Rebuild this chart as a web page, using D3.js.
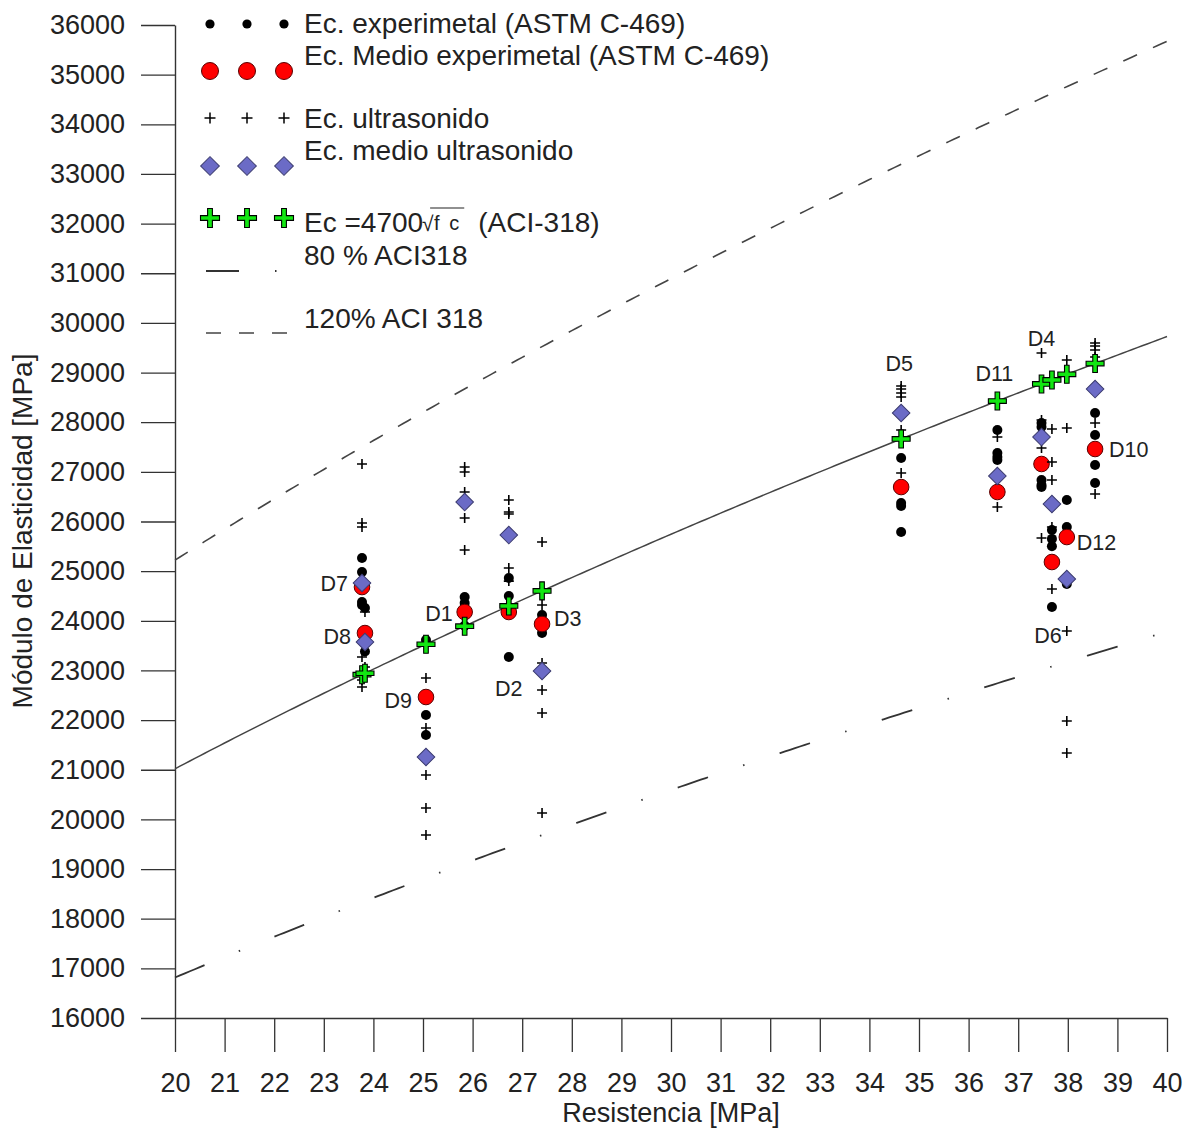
<!DOCTYPE html>
<html>
<head>
<meta charset="utf-8">
<script src="https://cdn.jsdelivr.net/npm/d3@7"></script>
<style>
  html, body { margin: 0; padding: 0; background: #fff; }
  svg { display: block; font-family: "Liberation Sans", Arial, sans-serif; }
</style>
</head>
<body>
<svg id="chart" width="1192" height="1131"></svg>
<script>
// Axis ticks
const xTickValues = [20, 21, 22, 23, 24, 25, 26, 27, 28, 29, 30, 31, 32, 33, 34, 35, 36, 37, 38, 39, 40];
const yTickValues = [16000, 17000, 18000, 19000, 20000, 21000, 22000, 23000, 24000, 25000, 26000,
                     27000, 28000, 29000, 30000, 31000, 32000, 33000, 34000, 35000, 36000];

// Mixes D1..D12: compressive strength f'c [MPa]
const groupIds = ["D1", "D2", "D3", "D4", "D5", "D6", "D7", "D8", "D9", "D10", "D11", "D12"];
const groupFc  = [25.84, 26.73, 27.40, 37.47, 34.64, 37.68, 23.77, 23.83, 25.06, 38.55, 36.58, 37.98];

// Mean modulus, experimental (ASTM C-469) and ultrasonic [MPa]
const expMean = [24177, 24177, 23935, 27158, 26694, 25184, 24680, 23753, 22465, 27460, 26594, 25687];
const usMean  = [26392, 25727, 22989, 27701, 28185, 26352, 24761, 23573, 21257, 28668, 26916, 24842];

// Individual specimens, experimental (ASTM C-469) [MPa]
const expValues = [
  [24479, 24360, 23900],
  [24862, 24499, 23270],
  [24117, 23754],
  [27983, 27903, 26835, 26735, 26694],
  [27278, 26700, 26372, 26312, 25788],
  [25830, 25650, 25500, 24278],
  [25264, 24982, 24378, 24318],
  [24257, 23620, 23380],
  [23613, 22102, 21700],
  [28185, 27742, 27137, 26775],
  [27842, 27379, 27298, 27238],
  [26432, 25889, 24740]
];

// Individual readings, ultrasonic pulse velocity [MPa]
const usValues = [
  [27097, 26997, 26594, 26070, 25425],
  [26432, 26191, 26151, 25063, 24800],
  [25587, 24318, 23150, 22606, 22143, 20129],
  [29393, 28044, 27480, 25667],
  [28728, 28668, 28588, 28507, 27842, 26976],
  [27862, 27198, 26835, 25889, 24640],
  [27158, 25970, 25889, 23270, 22807, 22666],
  [24177, 23069, 22948],
  [22848, 21841, 20894, 20229, 19686],
  [29595, 29534, 29454, 29312, 27983, 26553],
  [27701, 26291],
  [29252, 27882, 23794, 21982, 21337]
];

// ACI-318 relation and its bounds
const aciCoef = 4700;
const boundFactors = [0.8, 1.2];

// Label placement around each mean marker: [dx, dy, anchor]
const labelPlacement = [
  [-12, 1, "end"], [0, 76, "middle"], [12, -6, "start"], [0, -126, "middle"],
  [-2, -124, "middle"], [-4, 73, "middle"], [-14, -4, "end"], [-14, 3, "end"],
  [-14, 3, "end"], [14, 0, "start"], [-3, -119, "middle"], [10, 5, "start"]
];

const svg = d3.select("#chart");
const x = d3.scaleLinear().domain([20, 40]).range([175, 1167]);
const y = d3.scaleLinear().domain([16000, 36000]).range([1018, 25]);

const TEXT = "#222";
const aci = fc => aciCoef * Math.sqrt(fc);

// ---- Axes ----
const xAxis = d3.axisBottom(x).tickValues(xTickValues).tickSize(34).tickSizeOuter(0).tickPadding(21)
  .tickFormat(d3.format("d"));
const yAxis = d3.axisLeft(y).tickValues(yTickValues).tickSize(34).tickSizeOuter(0).tickPadding(16)
  .tickFormat(d3.format("d"));

const gx = svg.append("g").attr("transform", `translate(0,${y(16000)})`).call(xAxis);
const gy = svg.append("g").attr("transform", `translate(${x(20)},0)`).call(yAxis);
[gx, gy].forEach(g => {
  g.selectAll("path.domain").attr("stroke", "#333").attr("stroke-width", 1.4);
  g.selectAll(".tick line").attr("stroke", "#333").attr("stroke-width", 1.3);
  g.selectAll(".tick text").attr("fill", TEXT).style("font-size", "27px")
    .style("font-family", "'Liberation Sans', Arial, sans-serif");
});

svg.append("text").attr("x", 671).attr("y", 1122).attr("text-anchor", "middle")
  .attr("fill", TEXT).style("font-size", "27px").text("Resistencia [MPa]");
svg.append("text").attr("transform", "translate(32,531) rotate(-90)").attr("text-anchor", "middle")
  .attr("fill", TEXT).style("font-size", "28px").text("Módulo de Elasticidad [MPa]");

// ---- Reference curves ----
const fcSamples = d3.range(20, 40.001, 0.1);
const curve = k => d3.line().x(d => x(d)).y(d => y(k * aci(d)))(fcSamples);

const plot = svg.append("g");
plot.append("path").attr("d", curve(1)).attr("fill", "none")
  .attr("stroke", "#444").attr("stroke-width", 1.5);
plot.append("path").attr("d", curve(boundFactors[1])).attr("fill", "none")
  .attr("stroke", "#444").attr("stroke-width", 1.6).attr("stroke-dasharray", "15,17.5");
plot.append("path").attr("d", curve(boundFactors[0])).attr("fill", "none")
  .attr("stroke", "#333").attr("stroke-width", 1.8).attr("stroke-dasharray", "32,37,1.5,37");

// ---- Markers ----
const plusPath = h => `M${-h},0H${h}M0,${-h}V${h}`;
// outlined plus: half-length L, half arm width w
const crossPath = (L, w) =>
  `M${-w},${-L}H${w}V${-w}H${L}V${w}H${w}V${L}H${-w}V${w}H${-L}V${-w}H${-w}Z`;
const diamondSym = s => d3.symbol(d3.symbolSquare, s)();

const expPts = [], usPts = [];
groupIds.forEach((id, i) => {
  expValues[i].forEach(v => expPts.push([groupFc[i], v]));
  usValues[i].forEach(v => usPts.push([groupFc[i], v]));
});

// individual experimental
plot.append("g").selectAll("circle").data(expPts).join("circle")
  .attr("cx", d => x(d[0])).attr("cy", d => y(d[1])).attr("r", 5).attr("fill", "#000");

// experimental means
plot.append("g").selectAll("circle").data(groupIds).join("circle")
  .attr("cx", (d, i) => x(groupFc[i])).attr("cy", (d, i) => y(expMean[i])).attr("r", 7.8)
  .attr("fill", "#ff0000").attr("stroke", "#5a0000").attr("stroke-width", 1);

// individual ultrasonic
plot.append("g").selectAll("path").data(usPts).join("path")
  .attr("transform", d => `translate(${x(d[0])},${y(d[1])})`).attr("d", plusPath(5))
  .attr("stroke", "#000").attr("stroke-width", 1.6).attr("fill", "none");

// ultrasonic means
plot.append("g").selectAll("path").data(groupIds).join("path")
  .attr("transform", (d, i) => `translate(${x(groupFc[i])},${y(usMean[i])}) rotate(45)`)
  .attr("d", diamondSym(155))
  .attr("fill", "#6b6bc6").attr("stroke", "#3c3c70").attr("stroke-width", 1);

// ACI-318 estimates
plot.append("g").selectAll("path").data(groupIds).join("path")
  .attr("transform", (d, i) => `translate(${x(groupFc[i])},${y(aci(groupFc[i]))})`)
  .attr("d", crossPath(9, 2.3))
  .attr("fill", "#12e612").attr("stroke", "#000").attr("stroke-width", 1.1);

// mix labels
plot.append("g").selectAll("text").data(groupIds).join("text")
  .attr("x", (d, i) => x(groupFc[i]) + labelPlacement[i][0])
  .attr("y", (d, i) => y(expMean[i]) + labelPlacement[i][1] + 7.5)
  .attr("text-anchor", (d, i) => labelPlacement[i][2])
  .attr("fill", TEXT).style("font-size", "21.5px").text(d => d);

// ---- Legend ----
const leg = svg.append("g");
const legX = [210, 247, 284];
const legText = (ty, str) => leg.append("text").attr("x", 304).attr("y", ty + 10)
  .attr("fill", TEXT).style("font-size", "28px").text(str);

legX.forEach(cx => leg.append("circle").attr("cx", cx).attr("cy", 24).attr("r", 4.6).attr("fill", "#000"));
legText(23, "Ec. experimetal (ASTM C-469)");

legX.forEach(cx => leg.append("circle").attr("cx", cx).attr("cy", 71).attr("r", 8.5)
  .attr("fill", "#ff0000").attr("stroke", "#5a0000").attr("stroke-width", 1));
legText(55, "Ec. Medio experimetal (ASTM C-469)");

legX.forEach(cx => leg.append("path").attr("transform", `translate(${cx},118)`).attr("d", plusPath(5.5))
  .attr("stroke", "#000").attr("stroke-width", 1.5));
legText(118, "Ec. ultrasonido");

legX.forEach(cx => leg.append("path").attr("transform", `translate(${cx},166) rotate(45)`)
  .attr("d", diamondSym(175)).attr("fill", "#6b6bc6").attr("stroke", "#3c3c70").attr("stroke-width", 1));
legText(150, "Ec. medio ultrasonido");

legX.forEach(cx => leg.append("path").attr("transform", `translate(${cx},218)`).attr("d", crossPath(9.5, 2.4))
  .attr("fill", "#12e612").attr("stroke", "#000").attr("stroke-width", 1.1));

// ACI formula with radical sign
const fy = 232;
const t1 = leg.append("text").attr("x", 304).attr("y", fy).attr("fill", TEXT).style("font-size", "28px").text("Ec =4700");
const w1 = t1.node().getComputedTextLength();
const rx = 304 + w1 - 1;
leg.append("text").attr("x", rx).attr("y", fy - 1).attr("fill", TEXT).style("font-size", "21px").text("√");
const t3 = leg.append("text").attr("x", rx + 12).attr("y", fy - 2).attr("fill", TEXT)
  .style("font-size", "20px").attr("letter-spacing", "2px").text("f c");
const w3 = t3.node().getComputedTextLength();
leg.append("line").attr("x1", rx + 8).attr("x2", rx + 12 + w3 + 3).attr("y1", 208).attr("y2", 208)
  .attr("stroke", TEXT).attr("stroke-width", 1.2);
leg.append("text").attr("x", rx + 12 + w3 + 17).attr("y", fy).attr("fill", TEXT)
  .style("font-size", "28px").text("(ACI-318)");

legText(255, "80 % ACI318");
leg.append("line").attr("x1", 206).attr("x2", 292).attr("y1", 271).attr("y2", 271)
  .attr("stroke", "#333").attr("stroke-width", 1.8).attr("stroke-dasharray", "33,36,1.5,36");

legText(318, "120% ACI 318");
leg.append("line").attr("x1", 206).attr("x2", 290).attr("y1", 333).attr("y2", 333)
  .attr("stroke", "#444").attr("stroke-width", 1.6).attr("stroke-dasharray", "15,18");
</script>
</body>
</html>
